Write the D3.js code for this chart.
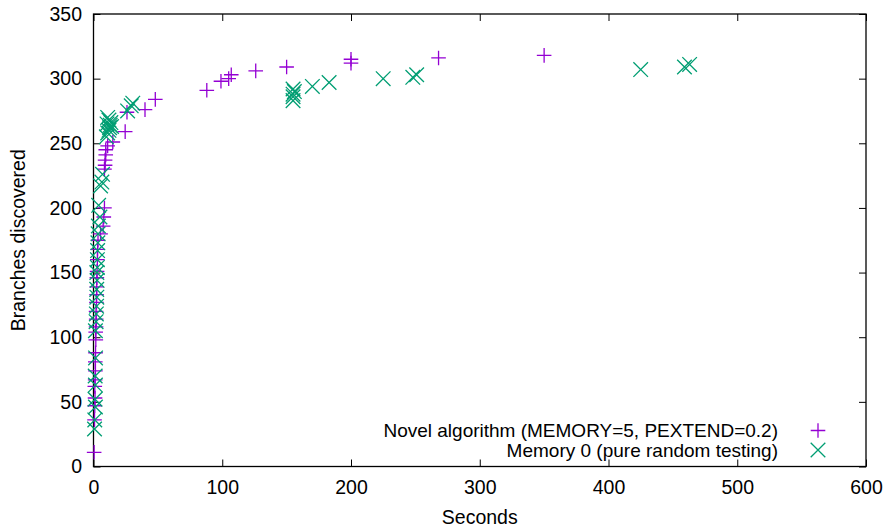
<!DOCTYPE html>
<html>
<head>
<meta charset="utf-8">
<script src="https://cdn.jsdelivr.net/npm/d3@7"></script>
<style>
  body { margin: 0; background: #fff; }
  svg { display: block; font-family: "Liberation Sans", Arial, sans-serif; }
</style>
</head>
<body>
<script>
// data: seconds and branches for each series
const novelSeconds = [0.5, 0.8, 1.0, 1.2, 1.0, 1.3, 1.5, 1.4, 1.6, 1.8, 1.7, 2.0, 2.1, 2.0, 2.3, 2.4, 2.5, 2.6, 2.8, 3.0, 3.2, 3.5, 5.5, 7.5, 8.0, 8.5,
  8.5, 9.0, 9.0, 9.5, 9.5, 11, 15, 24.6, 26, 40, 48, 88, 99, 105, 107, 126, 150, 200, 200, 268, 350];
const novelBranches = [11, 36, 47, 53, 62, 67, 74, 81, 88, 98, 104, 108, 114, 120, 127, 133, 139, 146, 151, 160, 168, 175, 180, 186, 193, 200,
  230, 233, 237, 241, 245, 248, 251, 259, 274, 276, 284, 291, 298, 300, 303, 306, 309, 312, 315, 316, 318];

const randomSeconds = [0.8, 1.0, 1.5, 1.2, 1.5, 1.3, 1.6, 1.5, 2.0, 2.2, 2.4, 2.6, 2.5, 2.8, 2.6, 3.0, 3.0, 3.2, 3.4, 3.6, 3.8, 5.0, 4.0,
  5.5, 6.5, 7.0, 10, 11, 12, 12.5, 13, 13.5, 12, 11, 14, 10.5, 26.5, 29.3, 30.5, 155, 155, 155, 156, 155, 170, 183, 225, 248, 251, 425, 459, 463];
const randomBranches = [29, 36, 46, 52, 63, 70, 84, 105, 112, 118, 124, 131, 137, 144, 150, 154, 160, 167, 173, 180, 186, 193, 202,
  217, 220, 226, 255, 258, 260, 262, 264, 266, 268, 270, 263, 265, 275, 279, 281, 283, 286, 288, 290, 292, 294, 297, 300, 301, 303, 307, 309, 311];

const xTicks = [0, 100, 200, 300, 400, 500, 600];
const yTicks = [0, 50, 100, 150, 200, 250, 300, 350];
const seriesNames = ["Novel algorithm (MEMORY=5, PEXTEND=0.2)", "Memory 0 (pure random testing)"];

const width = 886, height = 530;
const margin = {top: 14, right: 20, bottom: 63.5, left: 93.5};
const fontSize = 19.5;
const legendFontSize = 19;

let svg = d3.select("body").append("svg")
    .attr("width", width)
    .attr("height", height);

let xScale = d3.scaleLinear().domain([0, 600]).range([margin.left, width - margin.right]);
let yScale = d3.scaleLinear().domain([0, 350]).range([height - margin.bottom, margin.top]);

const tickLen = 7;

//Axes (ticks point inwards, mirrored like gnuplot)
svg.append("g")
    .attr("transform", `translate(0, ${yScale(0)})`)
    .call(d3.axisBottom(xScale).tickValues(xTicks).tickSizeInner(-tickLen).tickSizeOuter(0).tickPadding(14))
    .call(g => g.select(".domain").remove())
    .call(g => g.selectAll("text").attr("font-size", fontSize).attr("font-family", null).attr("fill", "#000"));

svg.append("g")
    .attr("transform", `translate(0, ${yScale(350)})`)
    .call(d3.axisTop(xScale).tickValues(xTicks).tickSizeInner(-tickLen).tickSizeOuter(0).tickFormat(""))
    .call(g => g.select(".domain").remove());

svg.append("g")
    .attr("transform", `translate(${xScale(0)}, 0)`)
    .call(d3.axisLeft(yScale).tickValues(yTicks).tickSizeInner(-tickLen).tickSizeOuter(0).tickPadding(11.5))
    .call(g => g.select(".domain").remove())
    .call(g => g.selectAll("text").attr("font-size", fontSize).attr("font-family", null).attr("fill", "#000"));

svg.append("g")
    .attr("transform", `translate(${xScale(600)}, 0)`)
    .call(d3.axisRight(yScale).tickValues(yTicks).tickSizeInner(-tickLen).tickSizeOuter(0).tickFormat(""))
    .call(g => g.select(".domain").remove());

svg.selectAll(".tick line").attr("stroke", "#000");

//Frame
svg.append("rect")
    .attr("x", xScale(0))
    .attr("y", yScale(350))
    .attr("width", xScale(600) - xScale(0))
    .attr("height", yScale(0) - yScale(350))
    .attr("fill", "none")
    .attr("stroke", "#000")
    .attr("stroke-width", 1.3);

//Axis titles
svg.append("text")
    .attr("x", (xScale(0) + xScale(600)) / 2)
    .attr("y", 524)
    .attr("text-anchor", "middle")
    .attr("font-size", fontSize)
    .text("Seconds");

svg.append("text")
    .attr("transform", `translate(25, ${(yScale(0) + yScale(350)) / 2}) rotate(-90)`)
    .attr("text-anchor", "middle")
    .attr("font-size", fontSize)
    .text("Branches discovered");

// point shapes
const r = 7.3;
const plusPath = `M${-r},0H${r}M0,${-r}V${r}`;
const crossPath = `M${-r},${-r}L${r},${r}M${-r},${r}L${r},${-r}`;

const novel = novelSeconds.map((s, i) => [s, novelBranches[i]]);
const random = randomSeconds.map((s, i) => [s, randomBranches[i]]);

svg.append("g").selectAll("path")
    .data(novel)
    .join("path")
    .attr("transform", d => `translate(${xScale(d[0])}, ${yScale(d[1])})`)
    .attr("d", plusPath)
    .attr("stroke", "#9400d3")
    .attr("stroke-width", 1.3)
    .attr("fill", "none");

svg.append("g").selectAll("path")
    .data(random)
    .join("path")
    .attr("transform", d => `translate(${xScale(d[0])}, ${yScale(d[1])})`)
    .attr("d", crossPath)
    .attr("stroke", "#009e73")
    .attr("stroke-width", 1.3)
    .attr("fill", "none");

//Legend
const legend = svg.append("g");
const legendRows = [
    {name: seriesNames[0], d: plusPath, color: "#9400d3", y: 430.5},
    {name: seriesNames[1], d: crossPath, color: "#009e73", y: 450}
];
legendRows.forEach(row => {
    legend.append("text")
        .attr("x", 778)
        .attr("y", row.y)
        .attr("dy", "0.35em")
        .attr("text-anchor", "end")
        .attr("font-size", legendFontSize)
        .text(row.name);
    legend.append("path")
        .attr("transform", `translate(818, ${row.y})`)
        .attr("d", row.d)
        .attr("stroke", row.color)
        .attr("stroke-width", 1.3)
        .attr("fill", "none");
});
</script>
</body>
</html>
